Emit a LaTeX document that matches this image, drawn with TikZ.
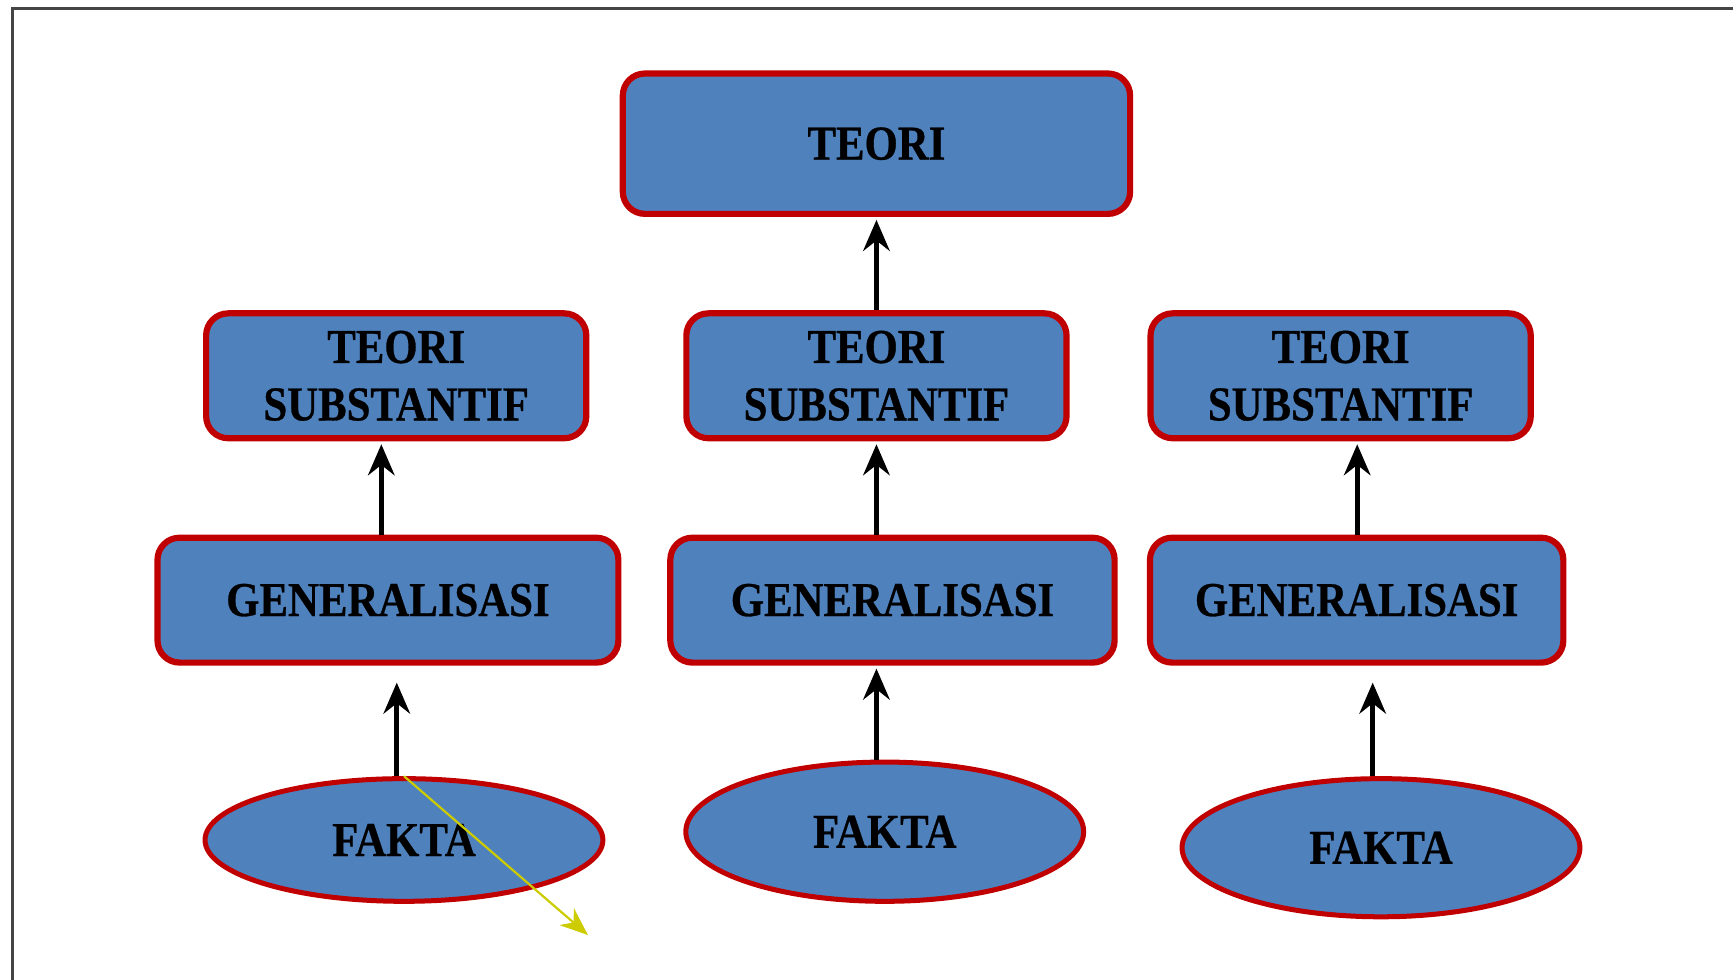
\documentclass[tikz,border=0pt]{standalone}
\usepackage{fontspec}
\setmainfont{Liberation Serif}[FakeStretch=0.88,FakeBold=0.6]
\usetikzlibrary{shapes.geometric,arrows.meta}
\definecolor{boxblue}{HTML}{4F81BD}
\definecolor{boxred}{HTML}{C00000}
\definecolor{yel}{HTML}{CCCC00}
\definecolor{framegray}{HTML}{454545}
\tikzset{
  box/.style={draw=boxred, fill=boxblue, line width=4.2pt, rounded corners=15pt,
    inner sep=0pt, align=center, font=\fontsize{33}{39}\selectfont\bfseries},
  fact/.style={ellipse, draw=boxred, fill=boxblue, line width=3.4pt, inner sep=0pt,
    font=\fontsize{33}{39}\selectfont\bfseries},
  arr/.style={line width=3.3pt, -{Stealth[length=21pt,width=18pt,inset=7pt]}},
  yarr/.style={draw=yel, line width=1.5pt, -{Stealth[length=19pt,width=15pt,inset=6pt]}}
}
\begin{document}
\begin{tikzpicture}[x=0.75pt,y=-0.75pt]
\useasboundingbox (0,0) rectangle (1568,886);
\draw[framegray, line width=2pt] (11,890) -- (11,8) -- (1572,8);
% top
\node[box, minimum width=344.25pt, minimum height=95.25pt] (teori) at (793,130) {TEORI};
% substantive theories
\node[box, minimum width=258pt, minimum height=84.75pt] (t1) at (358.5,340) {TEORI\\SUBSTANTIF};
\node[box, minimum width=258pt, minimum height=84.75pt] (t2) at (793,340) {TEORI\\SUBSTANTIF};
\node[box, minimum width=258pt, minimum height=84.75pt] (t3) at (1213,340) {TEORI\\SUBSTANTIF};
% generalisations
\node[box, minimum width=312.75pt, minimum height=84.75pt] (g1) at (351,543) {GENERALISASI};
\node[box, minimum width=301.5pt, minimum height=84.75pt] (g2) at (807.5,543) {GENERALISASI};
\node[box, minimum width=280.5pt, minimum height=84.75pt] (g3) at (1227.5,543) {GENERALISASI};
% facts
\node[fact, minimum width=270pt, minimum height=83.25pt] (f1) at (365.5,760) {FAKTA};
\node[fact, minimum width=270pt, minimum height=94.5pt] (f2) at (800.5,752.5) {FAKTA};
\node[fact, minimum width=270pt, minimum height=93.75pt] (f3) at (1249.5,767) {FAKTA};
% x positions of connectors
\coordinate (xa) at (345,0);
\coordinate (xb) at (359,0);
\coordinate (xc) at (793,0);
\coordinate (xd) at (1228,0);
\coordinate (xe) at (1242,0);
\coordinate (yend) at (532,846);
% connectors
\draw[arr, shorten >=2pt] (t2.north) -- (teori.south -| t2.north);
\draw[arr, shorten >=2pt] (g1.north -| xa) -- (t1.south -| xa);
\draw[arr, shorten >=2pt] (g2.north -| xc) -- (t2.south -| xc);
\draw[arr, shorten >=2pt] (g3.north -| xd) -- (t3.south -| xd);
\draw[arr, shorten >=11.5pt] (f1.north -| xb) -- (g1.south -| xb);
\draw[arr, shorten >=2pt] (f2.north -| xc) -- (g2.south -| xc);
\draw[arr, shorten >=11.5pt] (f3.north -| xe) -- (g3.south -| xe);
\draw[yarr] (f1.north) -- (yend);
\end{tikzpicture}
\end{document}
